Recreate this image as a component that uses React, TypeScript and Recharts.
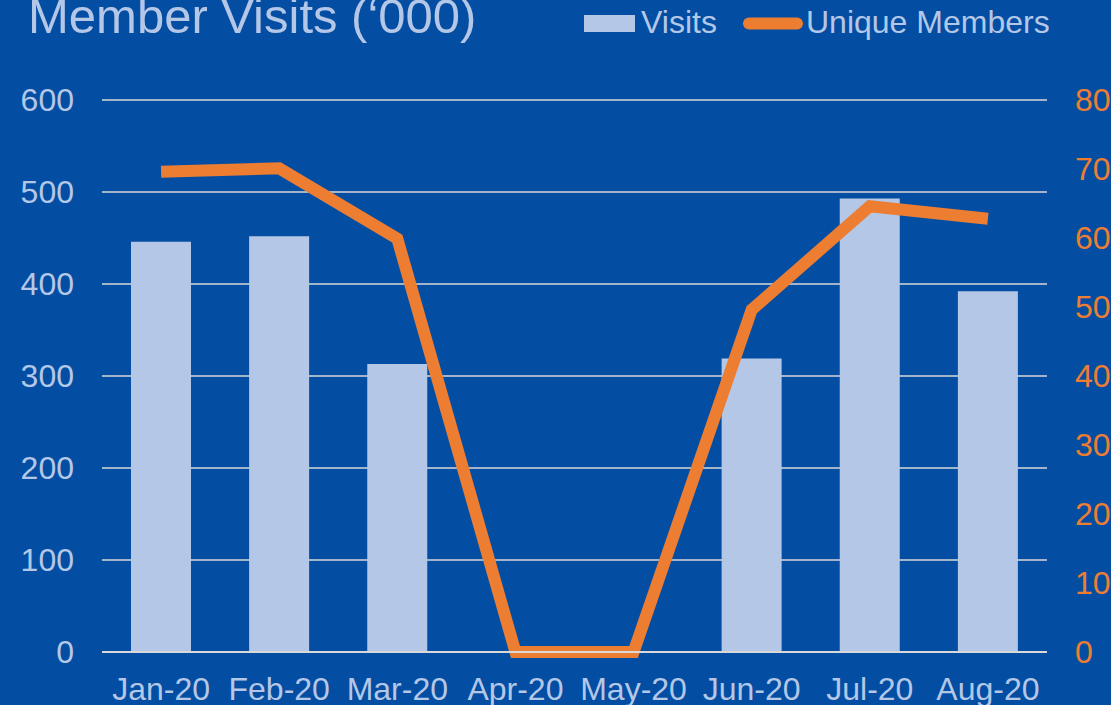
import { ComposedChart, Bar, Line, XAxis, YAxis, CartesianGrid } from 'recharts'

const months = ['Jan-20', 'Feb-20', 'Mar-20', 'Apr-20', 'May-20', 'Jun-20', 'Jul-20', 'Aug-20']
const visits = [446, 452, 313, 0, 0, 319, 493, 392]
const uniqueMembers = [69.6, 70.1, 59.9, 0, 0, 49.6, 64.6, 62.8]
const visitTicks = [0, 100, 200, 300, 400, 500, 600]
const memberTicks = [0, 10, 20, 30, 40, 50, 60, 70, 80]

const BG = '#034EA2'
const LIGHT = '#B4C7E7'
const ORANGE = '#ED7D31'
const FONT = '"Liberation Sans", Arial, sans-serif'

const data = months.map((month, i) => ({
  month,
  visits: visits[i],
  members: uniqueMembers[i],
}))

export default function App() {
  return (
    <div
      style={{
        position: 'absolute',
        top: 0,
        left: 0,
        width: 1111,
        height: 705,
        background: BG,
        fontFamily: FONT,
        overflow: 'hidden',
      }}
    >
      <ComposedChart
        width={1111}
        height={705}
        data={data}
        margin={{ top: 100, right: 0, bottom: 0, left: 0 }}
      >
        <CartesianGrid yAxisId="left" vertical={false} stroke="#D9D9D9" strokeWidth={1.5} />
        <XAxis
          dataKey="month"
          height={53}
          tickLine={false}
          axisLine={{ stroke: '#D9D9D9', strokeWidth: 2 }}
          tickMargin={19}
          tick={{ fill: LIGHT, fontSize: 32, fontFamily: FONT }}
          interval={0}
        />
        <YAxis
          yAxisId="left"
          orientation="left"
          width={102}
          domain={[0, 600]}
          ticks={visitTicks}
          axisLine={false}
          tickLine={false}
          tickMargin={22}
          tick={{ fill: LIGHT, fontSize: 32, fontFamily: FONT }}
        />
        <YAxis
          yAxisId="right"
          orientation="right"
          width={64}
          domain={[0, 80]}
          ticks={memberTicks}
          axisLine={false}
          tickLine={false}
          tickMargin={22}
          tick={{ fill: ORANGE, fontSize: 32, fontFamily: FONT }}
        />
        <Bar yAxisId="left" dataKey="visits" fill={LIGHT} barSize={60} isAnimationActive={false} />
        <Line
          yAxisId="right"
          type="linear"
          dataKey="members"
          stroke={ORANGE}
          strokeWidth={12}
          strokeLinejoin="miter"
          dot={false}
          activeDot={false}
          isAnimationActive={false}
        />
      </ComposedChart>
      <svg
        width={1111}
        height={60}
        style={{ position: 'absolute', top: 0, left: 0, pointerEvents: 'none' }}
      >
        <text x={28} y={33} fill={LIGHT} fontSize={49} fontFamily={FONT}>
          Member Visits (‘000)
        </text>
        <rect x={584} y={15} width={51} height={17} fill={LIGHT} />
        <text x={641} y={33} fill={LIGHT} fontSize={32} fontFamily={FONT}>
          Visits
        </text>
        <line
          x1={749}
          y1={23.5}
          x2={797}
          y2={23.5}
          stroke={ORANGE}
          strokeWidth={12}
          strokeLinecap="round"
        />
        <text x={806} y={33} fill={LIGHT} fontSize={32} fontFamily={FONT}>
          Unique Members
        </text>
      </svg>
    </div>
  )
}
